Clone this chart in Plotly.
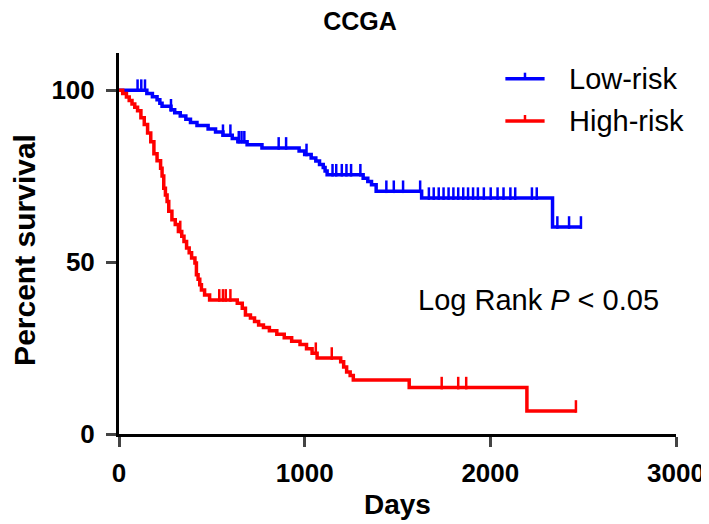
import numpy as np
import plotly.graph_objects as go

# ---- data ----
low_t = [0, 150, 180, 205, 220, 232, 280, 300, 330, 360, 385, 420, 480, 520, 560, 610, 640, 690, 770,
         970, 1000, 1035, 1060, 1080, 1100, 1110, 1121, 1315, 1340, 1360, 1385, 1630, 2335, 2493]
low_s = [100, 99.0, 98.1, 97.2, 96.2, 95.3, 94.3, 93.4, 92.5, 91.5, 90.6, 89.7, 88.7, 87.8, 86.9, 85.9, 85.0, 84.1, 83.2,
         82.3, 81.3, 80.3, 79.4, 78.4, 77.5, 76.5, 75.4, 74.4, 73.4, 72.5, 70.6, 68.6, 60.2, 60.2]
low_cens = [100, 120, 140, 280, 560, 600, 645, 660, 675, 860, 900, 1010, 1150, 1170, 1200, 1225, 1250, 1300,
            1440, 1480, 1530, 1622, 1669, 1695, 1722, 1748, 1775, 1801, 1827, 1854, 1880, 1907, 1933,
            1965, 2002, 2039, 2071, 2108, 2134, 2224, 2250, 2361, 2424, 2488]

high_t = [0, 20, 40, 55, 70, 85, 100, 118, 136, 154, 171, 188, 205, 224, 232, 241, 250, 259, 268, 285, 303, 320,
          338, 350, 364, 378, 391, 409, 417, 426, 435, 444, 461, 488, 637, 664, 681, 708, 730, 752, 778, 810,
          850, 890, 930, 975, 1010, 1040, 1067, 1194, 1210, 1226, 1245, 1262, 1563, 2197, 2461]
high_s = [100, 99.0, 98.0, 97.0, 96.0, 95.0, 94.0, 92.0, 90.0, 87.5, 85.0, 81.5, 79.5, 77.3, 75.0, 71.5, 69.5, 67.6,
          64.8, 62.3, 60.9, 58.9, 57.5, 56.0, 54.1, 52.7, 51.2, 49.7, 46.3, 45.0, 43.4, 41.9, 40.4, 39.0, 38.0, 36.6,
          34.6, 33.7, 32.7, 31.7, 31.0, 30.0, 29.0, 28.0, 27.0, 26.0, 24.8, 23.5, 22.1, 21.0, 19.5, 18.0, 17.0, 15.7,
          13.5, 6.7, 6.7]
high_cens = [330, 540, 560, 575, 600, 1060, 1146, 1738, 1827, 1870, 2461]

series_names = ["Low-risk", "High-risk"]
series_colors = ["#0000FF", "#FF0000"]
series = [
    (series_names[0], low_t, low_s, low_cens, series_colors[0]),
    (series_names[1], high_t, high_s, high_cens, series_colors[1]),
]

FONT = "Arial, Liberation Sans, sans-serif"

# plot-area geometry in pixels (used for paper-coordinate placement of text)
W, H = 709, 524
ML, MR, MT, MB = 111, 30, 45, 98
PW, PH = W - ML - MR, H - MT - MB


def px_x(p):
    return (p - ML) / PW


def px_y(p):
    return (H - MB - p) / PH


fig = go.Figure()
for name, t, s, cens, col in series:
    t = np.array(t, float)
    s = np.array(s, float)
    c = np.array(cens, float)
    idx = np.searchsorted(t, c, side="right") - 1
    cy = s[idx]
    fig.add_trace(go.Scatter(x=t, y=s, mode="lines", line=dict(color=col, width=3.5, shape="hv"),
                             name=name, showlegend=False, hoverinfo="skip"))
    fig.add_trace(go.Scatter(x=c, y=cy + 1.3, mode="markers",
                             marker=dict(symbol="line-ns", size=9, line=dict(color=col, width=2.5)),
                             showlegend=False, hoverinfo="skip"))

# legend drawn by hand (line sample with a censor tick, then label)
for i, (name, col) in enumerate(zip(series_names, series_colors)):
    yc = px_y(70.7 + i * 42.3)
    fig.add_shape(type="line", xref="paper", yref="paper", x0=px_x(505), x1=px_x(545), y0=yc, y1=yc,
                  line=dict(color=col, width=3.5))
    fig.add_shape(type="line", xref="paper", yref="paper", x0=px_x(525), x1=px_x(525), y0=yc, y1=yc + 6 / PH,
                  line=dict(color=col, width=2.5))
    fig.add_annotation(x=px_x(568), y=yc, xref="paper", yref="paper", xanchor="left", yanchor="middle",
                       text=name, showarrow=False, font=dict(family=FONT, size=29, color="black"))

fig.add_annotation(x=1600, y=39.0, xref="x", yref="y", xanchor="left", yanchor="middle",
                   text="Log Rank <i>P</i> &lt; 0.05", showarrow=False,
                   font=dict(family=FONT, size=29, color="black"))

# axis titles
fig.add_annotation(x=px_x(14), y=px_y(242), xref="paper", yref="paper", xanchor="center", yanchor="middle",
                   textangle=-90, text="<b>Percent survival</b>", showarrow=False,
                   font=dict(family=FONT, size=30, color="black"))
fig.add_annotation(x=0.5, y=px_y(496), xref="paper", yref="paper", xanchor="center", yanchor="middle",
                   text="<b>Days</b>", showarrow=False,
                   font=dict(family=FONT, size=28, color="black"))

fig.update_layout(
    width=W, height=H,
    margin=dict(l=ML, r=MR, t=MT, b=MB),
    paper_bgcolor="white", plot_bgcolor="white",
    font=dict(family=FONT, color="black"),
    title=dict(text="<b>CCGA</b>", x=352 / W, xref="container", xanchor="center", y=1 - 4 / H, yanchor="top",
               font=dict(family=FONT, size=25, color="black")),
    showlegend=False,
)
fig.update_xaxes(range=[0, 3000], tickvals=[0, 1000, 2000, 3000], ticks="outside", ticklen=10, tickwidth=3,
                 showline=True, linecolor="black", linewidth=3, showgrid=False, zeroline=False,
                 ticklabelstandoff=4,
                 tickfont=dict(family=FONT, size=26, color="black", weight="bold"))
fig.update_yaxes(range=[0, 110.8], tickvals=[0, 50, 100], ticks="outside", ticklen=10, tickwidth=3,
                 showline=True, linecolor="black", linewidth=3, showgrid=False, zeroline=False,
                 ticklabelstandoff=6,
                 tickfont=dict(family=FONT, size=26, color="black", weight="bold"))

fig.write_html("out.html")
